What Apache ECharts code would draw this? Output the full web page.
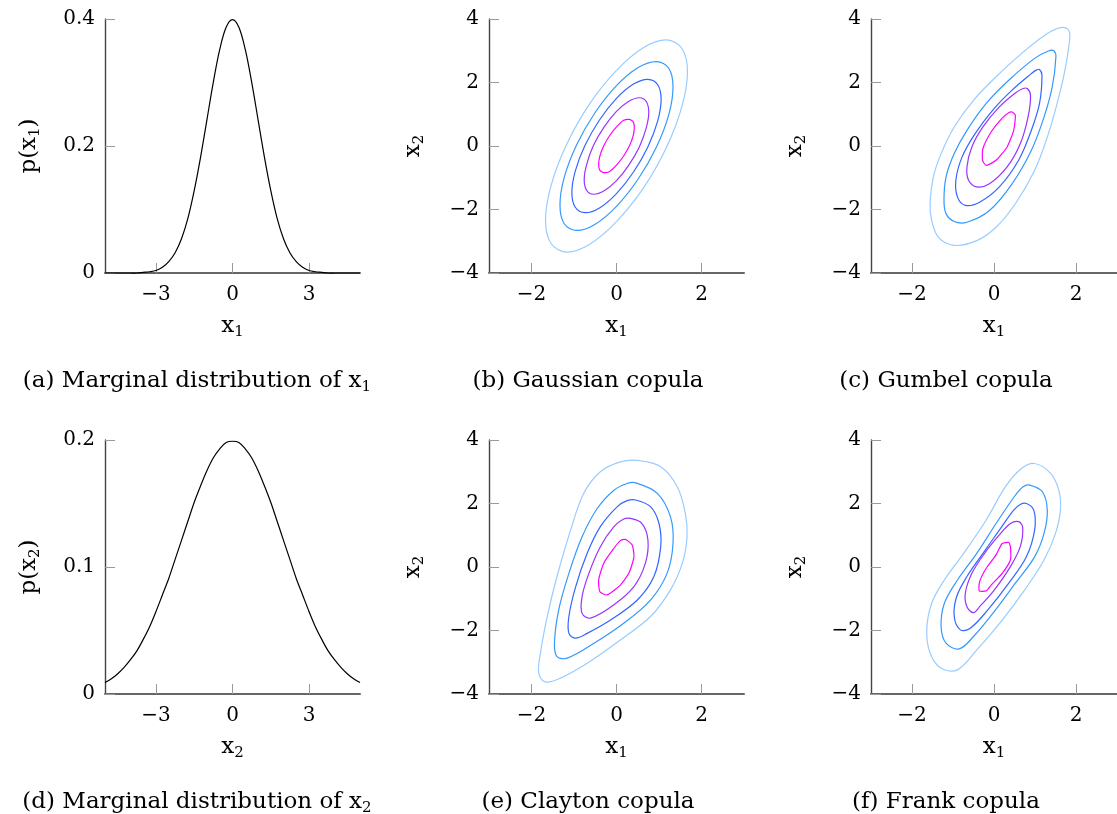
<!DOCTYPE html>
<html>
<head>
<meta charset="utf-8">
<script src="https://cdn.jsdelivr.net/npm/echarts@6/dist/echarts.min.js"></script>
<style>
  html, body { margin: 0; padding: 0; background: #fff; }
  #chart { width: 1117px; height: 814px; }
</style>
</head>
<body>
<div id="chart"></div>
<script>
// marginal densities (a) and (d)
const marginalX = [-5, -4.75, -4.5, -4.25, -4, -3.75, -3.5, -3.25, -3, -2.75, -2.5, -2.25, -2, -1.75, -1.5, -1.25, -1, -0.75, -0.5, -0.25,
  0, 0.25, 0.5, 0.75, 1, 1.25, 1.5, 1.75, 2, 2.25, 2.5, 2.75, 3, 3.25, 3.5, 3.75, 4, 4.25, 4.5, 4.75, 5];
const densityX1 = [0, 0, 0, 0, 0, 0, 0.001, 0.002, 0.004, 0.009, 0.018, 0.032, 0.054, 0.086, 0.130, 0.183, 0.242, 0.301, 0.352, 0.387,
  0.399, 0.387, 0.352, 0.301, 0.242, 0.183, 0.130, 0.086, 0.054, 0.032, 0.018, 0.009, 0.004, 0.002, 0.001, 0, 0, 0, 0, 0, 0];
const densityX2 = [0.009, 0.012, 0.016, 0.021, 0.027, 0.034, 0.043, 0.053, 0.065, 0.078, 0.091, 0.106, 0.121, 0.136, 0.151, 0.164, 0.176, 0.186, 0.193, 0.198,
  0.199, 0.198, 0.193, 0.186, 0.176, 0.164, 0.151, 0.136, 0.121, 0.106, 0.091, 0.078, 0.065, 0.053, 0.043, 0.034, 0.027, 0.021, 0.016, 0.012, 0.009];

const marginalTicks = [-3, 0, 3];
const copulaTicks = [-2, 0, 2];

// contour colours, outer level first (pgfplots "cool" map)
const levelColors = ['#99ccff', '#3399ff', '#3366ff', '#9933ff', '#ff00ff'];

// contour lines, outer to inner, [x1, x2] points
const gaussianContours = [
  [[1.67, 2.34], [1.54, 3.07], [1.18, 3.34], [0.64, 3.10], [0, 2.38], [-0.64, 1.31], [-1.18, 0.03], [-1.54, -1.25],
   [-1.67, -2.34], [-1.54, -3.07], [-1.18, -3.34], [-0.64, -3.10], [0, -2.38], [0.64, -1.31], [1.18, -0.03], [1.54, 1.25]],
  [[1.33, 1.86], [1.23, 2.45], [0.94, 2.66], [0.51, 2.47], [0, 1.90], [-0.51, 1.04], [-0.94, 0.03], [-1.23, -0.99],
   [-1.33, -1.86], [-1.23, -2.45], [-0.94, -2.66], [-0.51, -2.47], [0, -1.90], [0.51, -1.04], [0.94, -0.03], [1.23, 0.99]],
  [[1.05, 1.47], [0.97, 1.93], [0.74, 2.10], [0.40, 1.95], [0, 1.50], [-0.40, 0.82], [-0.74, 0.02], [-0.97, -0.79],
   [-1.05, -1.47], [-0.97, -1.93], [-0.74, -2.10], [-0.40, -1.95], [0, -1.50], [0.40, -0.82], [0.74, -0.02], [0.97, 0.79]],
  [[0.76, 1.06], [0.70, 1.40], [0.54, 1.52], [0.29, 1.41], [0, 1.09], [-0.29, 0.60], [-0.54, 0.02], [-0.70, -0.57],
   [-0.76, -1.06], [-0.70, -1.40], [-0.54, -1.52], [-0.29, -1.41], [0, -1.09], [0.29, -0.60], [0.54, -0.02], [0.70, 0.57]],
  [[0.42, 0.59], [0.39, 0.77], [0.30, 0.84], [0.16, 0.80], [0, 0.60], [-0.16, 0.33], [-0.30, 0.01], [-0.39, -0.31],
   [-0.42, -0.59], [-0.39, -0.77], [-0.30, -0.84], [-0.16, -0.80], [0, -0.60], [0.16, -0.33], [0.30, -0.01], [0.39, 0.31]]
];

const gumbelContours = [
  [[1.30, 3.54], [1.62, 3.73], [1.80, 3.68], [1.85, 3.44], [1.73, 2.39], [1.54, 1.34], [1.30, 0.28], [0.99, -0.77],
   [0.52, -1.82], [0.05, -2.56], [-0.42, -2.98], [-0.97, -3.13], [-1.36, -2.87], [-1.52, -2.34], [-1.56, -1.82],
   [-1.48, -0.98], [-1.29, -0.24], [-0.97, 0.60], [-0.50, 1.44], [0.05, 2.18], [0.67, 2.91]],
  [[1.34, 3.00], [1.46, 3.00], [1.51, 2.81], [1.42, 1.86], [1.22, 0.91], [0.91, -0.14], [0.44, -1.19], [-0.11, -2.03],
   [-0.66, -2.40], [-0.97, -2.38], [-1.17, -2.13], [-1.22, -1.71], [-1.17, -0.98], [-0.97, -0.24], [-0.66, 0.49],
   [-0.19, 1.34], [0.36, 2.07], [0.99, 2.76]],
  [[1.03, 2.39], [1.11, 2.41], [1.17, 2.23], [1.11, 1.34], [0.91, 0.49], [0.60, -0.45], [0.13, -1.29], [-0.35, -1.77],
   [-0.70, -1.87], [-0.89, -1.61], [-0.93, -1.08], [-0.78, -0.35], [-0.46, 0.39], [-0.03, 1.13], [0.44, 1.76], [0.91, 2.28]],
  [[0.71, 1.81], [0.81, 1.81], [0.89, 1.60], [0.83, 0.91], [0.64, 0.07], [0.32, -0.66], [-0.11, -1.19], [-0.42, -1.29],
   [-0.62, -1.08], [-0.66, -0.66], [-0.54, -0.03], [-0.27, 0.60], [0.13, 1.23], [0.52, 1.67]],
  [[0.36, 1.05], [0.44, 1.07], [0.52, 0.97], [0.48, 0.49], [0.32, -0.03], [0.05, -0.45], [-0.19, -0.61], [-0.28, -0.45],
   [-0.27, -0.08], [-0.07, 0.44], [0.20, 0.88]]
];

const claytonContours = [
  [[0.49, 3.36], [1.04, 3.16], [1.43, 2.53], [1.62, 1.69], [1.66, 0.95], [1.55, 0.12], [1.27, -0.72], [0.80, -1.56],
   [0.09, -2.30], [-0.69, -3.03], [-1.32, -3.50], [-1.68, -3.62], [-1.83, -3.34], [-1.79, -2.71], [-1.63, -1.56],
   [-1.40, -0.30], [-1.08, 1.16], [-0.77, 2.32], [-0.38, 3.00], [0.09, 3.31]],
  [[0.45, 2.65], [0.96, 2.32], [1.27, 1.58], [1.33, 0.74], [1.19, -0.20], [0.80, -1.04], [0.17, -1.77], [-0.53, -2.40],
   [-1.16, -2.87], [-1.40, -2.82], [-1.46, -2.40], [-1.36, -1.35], [-1.12, -0.20], [-0.81, 0.95], [-0.45, 1.85],
   [-0.06, 2.42], [0.25, 2.63]],
  [[0.45, 2.11], [0.80, 1.90], [1.00, 1.37], [1.04, 0.64], [0.88, -0.30], [0.49, -1.04], [-0.14, -1.67], [-0.69, -2.09],
   [-0.96, -2.24], [-1.12, -2.09], [-1.12, -1.56], [-0.96, -0.62], [-0.69, 0.43], [-0.38, 1.27], [0.02, 1.90], [0.25, 2.09]],
  [[0.33, 1.53], [0.60, 1.37], [0.74, 0.85], [0.68, 0.12], [0.41, -0.62], [-0.06, -1.19], [-0.61, -1.61], [-0.81, -1.46],
   [-0.81, -0.93], [-0.65, -0.20], [-0.38, 0.64], [-0.06, 1.27], [0.17, 1.51]],
  [[0.21, 0.87], [0.37, 0.69], [0.41, 0.32], [0.29, -0.20], [0.09, -0.57], [-0.22, -0.88], [-0.39, -0.78], [-0.42, -0.41],
   [-0.30, 0.12], [-0.06, 0.59], [0.09, 0.83]]
];

const frankContours = [
  [[0.99, 3.26], [1.38, 2.95], [1.58, 2.42], [1.62, 1.79], [1.50, 1.06], [1.22, 0.22], [0.75, -0.72], [0.20, -1.67],
   [-0.42, -2.61], [-0.89, -3.24], [-1.29, -3.19], [-1.56, -2.71], [-1.64, -1.98], [-1.52, -1.14], [-1.21, -0.41],
   [-0.74, 0.43], [-0.19, 1.48], [0.28, 2.53], [0.67, 3.10]],
  [[0.87, 2.58], [1.18, 2.37], [1.30, 1.79], [1.22, 1.06], [0.99, 0.32], [0.52, -0.51], [-0.03, -1.46], [-0.50, -2.19],
   [-0.85, -2.58], [-1.17, -2.40], [-1.29, -1.88], [-1.21, -1.14], [-0.89, -0.41], [-0.42, 0.43], [0.05, 1.37],
   [0.52, 2.26], [0.71, 2.53]],
  [[0.79, 2.00], [0.97, 1.79], [0.99, 1.16], [0.79, 0.32], [0.36, -0.51], [-0.15, -1.35], [-0.58, -1.93], [-0.82, -1.98],
   [-0.97, -1.56], [-0.91, -0.93], [-0.66, -0.30], [-0.27, 0.43], [0.13, 1.16], [0.48, 1.79], [0.64, 1.97]],
  [[0.60, 1.43], [0.70, 1.25], [0.64, 0.64], [0.40, 0.01], [0.01, -0.72], [-0.35, -1.25], [-0.50, -1.44], [-0.66, -1.25],
   [-0.70, -0.83], [-0.54, -0.20], [-0.23, 0.43], [0.13, 1.01], [0.40, 1.37]],
  [[0.36, 0.77], [0.40, 0.64], [0.40, 0.22], [0.20, -0.20], [-0.07, -0.57], [-0.19, -0.75], [-0.36, -0.75], [-0.35, -0.46],
   [-0.19, -0.04], [0.05, 0.38], [0.20, 0.74]]
];

const captions = [
  '(a) Marginal distribution of {v|x}{s|1}',
  '(b) Gaussian copula',
  '(c) Gumbel copula',
  '(d) Marginal distribution of {v|x}{s|2}',
  '(e) Clayton copula',
  '(f) Frank copula'
];

const FONT = 'DejaVu Serif';

const richText = {
  v: { fontFamily: FONT, fontSize: 23, color: '#000', lineHeight: 28 },
  s: { fontFamily: FONT, fontSize: 15, color: '#000', verticalAlign: 'bottom', lineHeight: 16 }
};

// panel placement: top row and bottom row
const panelLeft = [105, 489, 871, 105, 489, 871];
const panelTop = [19, 19, 19, 440, 440, 440];

function fmt(v) {
  return String(v).replace('-', '\u2212');
}

function xAxisFor(i, min, max, ticks, name) {
  return {
    type: 'value', gridIndex: i, min: min, max: max,
    name: name, nameLocation: 'middle', nameGap: 39,
    nameTextStyle: { fontFamily: FONT, fontSize: 23, color: '#000', rich: richText },
    axisLine: { show: true, onZero: false, lineStyle: { color: '#666', width: 2 } },
    axisTick: { show: true, inside: true, length: 10, customValues: ticks, lineStyle: { color: '#999', width: 1 } },
    axisLabel: { customValues: ticks, formatter: fmt, margin: 12, fontFamily: FONT, fontSize: 20, color: '#000' },
    splitLine: { show: false }
  };
}

function yAxisFor(i, min, max, interval, name) {
  return {
    type: 'value', gridIndex: i, min: min, max: max, interval: interval,
    name: name, nameLocation: 'middle', nameGap: 62, nameRotate: 90,
    nameTextStyle: { fontFamily: FONT, fontSize: 23, color: '#000', rich: richText },
    axisLine: { show: true, onZero: false, lineStyle: { color: '#444', width: 1.4 } },
    axisTick: { show: true, inside: true, length: 10, lineStyle: { color: '#999', width: 1 } },
    axisLabel: { formatter: fmt, margin: 10, fontFamily: FONT, fontSize: 20, color: '#000' },
    splitLine: { show: false }
  };
}

// smooth closed curves through the read points, placed with the axis scales
function contourSeries(contours, idx) {
  return {
    type: 'custom', coordinateSystem: 'cartesian2d', xAxisIndex: idx, yAxisIndex: idx,
    silent: true, clip: false,
    data: contours.map((pts, level) => [pts[0][0], pts[0][1], level]),
    renderItem: function (params, api) {
      const level = params.dataIndex;
      const pts = contours[level].map(p => api.coord(p));
      return {
        type: 'polygon',
        shape: { points: pts, smooth: level === 4 ? 0.2 : 0.35 },
        style: { fill: 'none', stroke: levelColors[level], lineWidth: 1.2 }
      };
    }
  };
}

function marginalSeries(values, idx) {
  return {
    type: 'custom', coordinateSystem: 'cartesian2d', xAxisIndex: idx, yAxisIndex: idx,
    silent: true,
    data: [[marginalX[0], values[0]]],
    renderItem: function (params, api) {
      const pts = marginalX.map((x, k) => api.coord([x, values[k]]));
      return {
        type: 'polyline',
        shape: { points: pts, smooth: 0.35 },
        style: { fill: 'none', stroke: '#000', lineWidth: 1.2 }
      };
    }
  };
}

const chart = echarts.init(document.getElementById('chart'), null, { renderer: 'canvas' });

const grids = panelLeft.map((l, i) => ({ left: l, top: panelTop[i], width: 255, height: 254 }));

const xAxes = [
  xAxisFor(0, -5, 5, marginalTicks, '{v|x}{s|1}'),
  xAxisFor(1, -3, 3, copulaTicks, '{v|x}{s|1}'),
  xAxisFor(2, -3, 3, copulaTicks, '{v|x}{s|1}'),
  xAxisFor(3, -5, 5, marginalTicks, '{v|x}{s|2}'),
  xAxisFor(4, -3, 3, copulaTicks, '{v|x}{s|1}'),
  xAxisFor(5, -3, 3, copulaTicks, '{v|x}{s|1}')
];

const yAxes = [
  yAxisFor(0, 0, 0.4, 0.2, '{v|p(x}{s|1}{v|)}'),
  yAxisFor(1, -4, 4, 2, '{v|x}{s|2}'),
  yAxisFor(2, -4, 4, 2, '{v|x}{s|2}'),
  yAxisFor(3, 0, 0.2, 0.1, '{v|p(x}{s|2}{v|)}'),
  yAxisFor(4, -4, 4, 2, '{v|x}{s|2}'),
  yAxisFor(5, -4, 4, 2, '{v|x}{s|2}')
];

const captionX = [197, 588, 946, 197, 588, 946];
const captionY = [381, 381, 381, 802, 802, 802];

const captionGraphics = captions.map((t, i) => ({
  type: 'text', x: captionX[i], y: captionY[i], silent: true,
  style: {
    text: t, fill: '#000', fontFamily: FONT, fontSize: 23,
    align: 'center', verticalAlign: 'middle', rich: richText
  }
}));

const series = [
  marginalSeries(densityX1, 0),
  marginalSeries(densityX2, 3),
  contourSeries(gaussianContours, 1),
  contourSeries(gumbelContours, 2),
  contourSeries(claytonContours, 4),
  contourSeries(frankContours, 5)
];

chart.setOption({
  animation: false,
  backgroundColor: '#fff',
  grid: grids,
  xAxis: xAxes,
  yAxis: yAxes,
  series: series,
  graphic: captionGraphics
});
</script>
</body>
</html>
